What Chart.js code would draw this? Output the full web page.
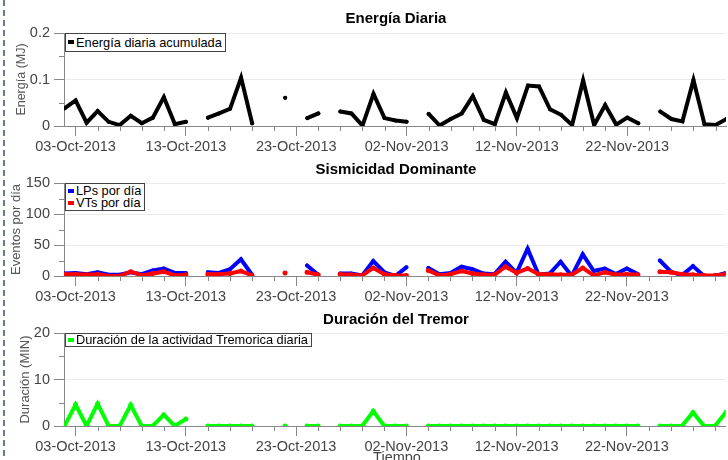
<!DOCTYPE html>
<html>
<head>
<meta charset="utf-8">
<title>Actividad diaria</title>
<script src="https://cdn.jsdelivr.net/npm/chart.js@4.4.1/dist/chart.umd.min.js"></script>
<style>
  body { margin: 0; background: #fff; font-family: Arial, "Liberation Sans", Helvetica, sans-serif; }
  #hoja { position: relative; width: 728px; height: 460px; overflow: hidden; }
  .panel { position: absolute; left: 0; width: 728px; height: 152px; }
  .borde { position: absolute; left: 3px; top: 0; width: 2px; height: 460px;
           background: repeating-linear-gradient(to bottom, #6b7b8f 0 6px, transparent 6px 10px); }
  .titulo { position: absolute; left: 396px; transform: translateX(-50%); font-weight: bold;
            font-size: 15px; line-height: 17px; white-space: nowrap; color: #000; }
  .leyenda { position: absolute; left: 65px; border: 1px solid #444; background: #fff;
             font-size: 12.8px; color: #000; padding: 0 3px 0 2px; }
  .leyenda div { display: flex; align-items: center; white-space: nowrap; }
  .leyenda i { display: inline-block; width: 6px; height: 4px; margin-right: 2px; }
  #tiempo { position: absolute; left: 397px; top: 449px; transform: translateX(-50%);
            font-size: 14.5px; line-height: 17px; color: #444; }
</style>
</head>
<body>
<div id="hoja">
  <div class="borde"></div>

  <div class="panel" style="top:0"><canvas id="c1"></canvas></div>
  <div class="panel" style="top:150px"><canvas id="c2"></canvas></div>
  <div class="panel" style="top:300px"><canvas id="c3"></canvas></div>

  <div class="titulo" style="top:9px">Energía Diaria</div>
  <div class="titulo" style="top:160px">Sismicidad Dominante</div>
  <div class="titulo" style="top:310px">Duración del Tremor</div>

  <div class="leyenda" style="top:33px;padding-top:1.5px;padding-bottom:1.5px;line-height:13.5px">
    <div><i style="background:#000"></i>Energía diaria acumulada</div>
  </div>
  <div class="leyenda" style="top:183px;padding-top:0.5px;padding-bottom:0.5px;line-height:12.5px">
    <div><i style="background:#0000ff"></i>LPs por día</div>
    <div><i style="background:#ff0000"></i>VTs por día</div>
  </div>
  <div class="leyenda" style="top:333px;line-height:12.4px">
    <div><i style="background:#00ff00"></i>Duración de la actividad Tremorica diaria</div>
  </div>

  <div id="tiempo">Tiempo</div>
</div>

<script>
// dia 0 = 02-Oct-2013, un punto por dia hasta 01-Dec-2013
const dias = Array.from({ length: 61 }, (_, i) => i);

// marcas mayores del eje x
const diasEtiqueta = [1, 11, 21, 31, 41, 51];
const etiquetasX = ['03-Oct-2013', '13-Oct-2013', '23-Oct-2013', '02-Nov-2013', '12-Nov-2013', '22-Nov-2013'];

// Energia diaria acumulada (MJ)
const energia = [
  0.038, 0.055, 0.007, 0.032, 0.009, 0.002, 0.022, 0.006, 0.018, 0.062,
  0.004, 0.009, null, 0.018, 0.027, 0.037, 0.104, 0.006, null, null,
  0.061, null, 0.017, 0.027, null, 0.031, 0.027, 0.001, 0.069, 0.017,
  0.012, 0.009, null, 0.026, 0.001, 0.015, 0.027, 0.064, 0.013, 0.004,
  0.072, 0.017, 0.087, 0.085, 0.036, 0.024, 0.002, 0.098, 0.002, 0.045,
  0.003, 0.018, 0.006, null, 0.031, 0.015, 0.010, 0.099, 0.004, 0.002,
  0.015
];

// LPs por dia
const lps = [
  4, 5, 3, 6, 2, 2, 6, 3, 9, 12,
  5, 5, null, 6, 5, 11, 27, 2, null, null,
  5, null, 17, 2, null, 4, 4, 1, 24, 6,
  0, 14, null, 13, 3, 5, 15, 11, 4, 3,
  23, 5, 44, 2, 4, 23, 0, 35, 8, 12,
  3, 12, 3, null, 25, 7, 1, 16, 0, 0,
  5
];

// VTs por dia
const vts = [
  3, 3, 2, 3, 0, 0, 7, 1, 4, 7,
  1, 2, null, 3, 3, 4, 8, 1, null, null,
  5, null, 6, 2, null, 3, 2, 1, 13, 3,
  1, 1, null, 9, 1, 3, 8, 4, 2, 2,
  15, 5, 12, 3, 3, 2, 2, 13, 1, 6,
  2, 3, 2, null, 7, 6, 3, 2, 1, 1,
  3
];

// Duracion del tremor (min)
const tremor = [
  0, 4.6, 0, 4.8, 0, 0, 4.5, 0, 0, 2.4,
  0, 1.5, null, 0, 0, 0, 0, 0, null, null,
  0, null, 0, 0, null, 0, 0, 0, 3.2, 0,
  0, 0, null, 0, 0, 0, 0, 0, 0, 0,
  0, 0, 0, 0, 0, 0, 0, 0, 0, 0,
  0, 0, 0, null, 0, 0, 0, 2.9, 0, 0,
  3
];

const GRIS = '#888';
const TEXTO = '#444';

// marcas cortas (menores) en ambos ejes
const marcasMenores = {
  id: 'marcasMenores',
  afterDraw(chart, args, opts) {
    const { ctx, scales: { x, y } } = chart;
    ctx.save();
    ctx.strokeStyle = GRIS;
    ctx.lineWidth = 1;
    ctx.beginPath();
    (opts.x || []).forEach(v => {
      const px = Math.round(x.getPixelForValue(v)) + 0.5;
      ctx.moveTo(px, x.top);
      ctx.lineTo(px, x.top + 5);
    });
    (opts.y || []).forEach(v => {
      const py = Math.round(y.getPixelForValue(v)) + 0.5;
      ctx.moveTo(y.right - 5, py);
      ctx.lineTo(y.right, py);
    });
    ctx.stroke();
    ctx.restore();
  }
};

const menoresX = dias.filter(d => d % 2 === 1 && !diasEtiqueta.includes(d));

function serie(label, data, color, radio, orden) {
  return {
    label, data,
    borderColor: color, backgroundColor: color,
    borderWidth: 4, borderCapStyle: 'round',
    pointRadius: radio, pointHoverRadius: radio, pointBorderWidth: 0,
    spanGaps: false, tension: 0, order: orden
  };
}

function panel(id, datasets, yMax, yPaso, yMenores, yTitulo, tamTitulo, padTitulo) {
  new Chart(document.getElementById(id), {
    type: 'line',
    data: { labels: dias, datasets },
    plugins: [marcasMenores],
    options: {
      responsive: true,
      maintainAspectRatio: false,
      animation: false,
      events: [],
      layout: { padding: { top: 33, left: 0, right: 0, bottom: 0 } },
      plugins: {
        legend: { display: false },
        tooltip: { enabled: false },
        marcasMenores: { x: menoresX, y: yMenores }
      },
      scales: {
        x: {
          type: 'linear',
          min: -0.05,
          max: 59.95,
          afterBuildTicks: s => { s.ticks = diasEtiqueta.map(v => ({ value: v })); },
          afterFit: s => { s.height = 26; },
          ticks: {
            autoSkip: false, maxRotation: 0, padding: 2,
            color: TEXTO, font: { size: 14.5 },
            callback: v => etiquetasX[diasEtiqueta.indexOf(v)]
          },
          grid: { drawOnChartArea: false, tickLength: 10, tickColor: GRIS },
          border: { color: GRIS }
        },
        y: {
          min: 0,
          max: yMax,
          afterFit: s => { s.width = 64; },
          ticks: { stepSize: yPaso, padding: 4, color: TEXTO, font: { size: 14.5 } },
          grid: {
            tickLength: 10, tickColor: GRIS,
            color: c => c.tick && c.tick.value === 0 ? 'rgba(0,0,0,0)' : '#ebebeb'
          },
          border: { color: GRIS },
          title: {
            display: true, text: yTitulo, color: '#555',
            font: { size: tamTitulo }, padding: { top: padTitulo, bottom: 0 }
          }
        }
      }
    }
  });
}

panel('c1', [serie('Energía diaria acumulada', energia, '#000000', 2, 0)],
  0.2, 0.1, [0.05, 0.15], 'Energía (MJ)', 12.5, 14.5);

panel('c2', [
  serie('LPs por día', lps, '#0000ff', 2, 1),
  serie('VTs por día', vts, '#ff0000', 2.5, 0)
], 150, 50, [25, 75, 125], 'Eventos por día', 13, 9);

panel('c3', [serie('Duración de la actividad Tremorica diaria', tremor, '#00ff00', 2.5, 0)],
  20, 10, [5, 15], 'Duración (MIN)', 13, 18);
</script>
</body>
</html>
